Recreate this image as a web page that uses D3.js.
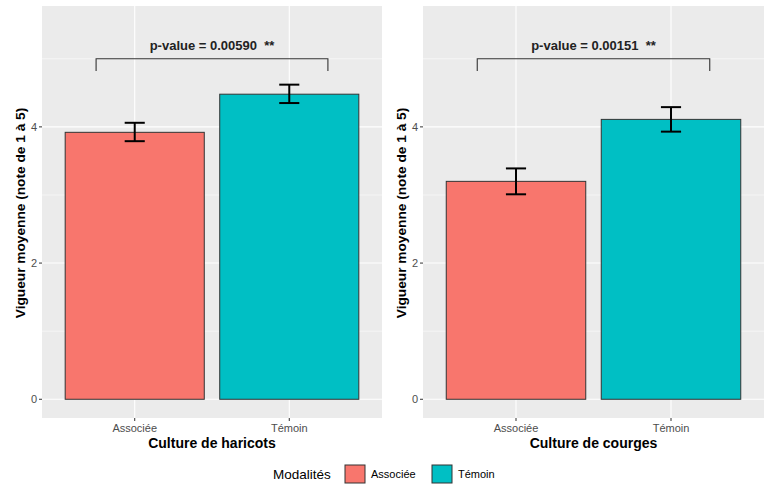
<!DOCTYPE html>
<html>
<head>
<meta charset="utf-8">
<script src="https://cdn.jsdelivr.net/npm/d3@7"></script>
<style>
body { margin: 0; background: #fff; }
svg { display: block; font-family: "Liberation Sans", Arial, sans-serif; }
text { white-space: pre; }
</style>
</head>
<body>
<svg id="chart" width="773" height="489"></svg>
<script>
const categories = ["Associée", "Témoin"];
const colors = ["#F8766D", "#00BFC4"];
const panelTitles = ["Culture de haricots", "Culture de courges"];
const pLabels = ["p-value = 0.00590  **", "p-value = 0.00151  **"];
const meansHaricots = [3.92, 4.48];
const lowHaricots = [3.79, 4.35];
const highHaricots = [4.06, 4.62];
const meansCourges = [3.20, 4.11];
const lowCourges = [3.01, 3.93];
const highCourges = [3.39, 4.29];
const yTicks = [0, 2, 4];
const yMinor = [1, 3, 5];
const yLabel = "Vigueur moyenne (note de 1 à 5)";
const legendTitle = "Modalités";

const panels = [
  { means: meansHaricots, low: lowHaricots, high: highHaricots, title: panelTitles[0], p: pLabels[0], x0: 42, x1: 382, ytx: 20 },
  { means: meansCourges, low: lowCourges, high: highCourges, title: panelTitles[1], p: pLabels[1], x0: 423, x1: 764, ytx: 401 }
];

const svg = d3.select("#chart");
const plotTop = 6, plotBottom = 418;
const y = d3.scaleLinear().domain([-0.275, 5.775]).range([plotBottom, plotTop]);

panels.forEach(p => {
  const g = svg.append("g");
  const x = d3.scaleLinear().domain([0.4, 2.6]).range([p.x0, p.x1]);
  const pos = categories.map((c, i) => i + 1);
  g.append("rect").attr("x", p.x0).attr("y", plotTop).attr("width", p.x1 - p.x0).attr("height", plotBottom - plotTop).attr("fill", "#EBEBEB");
  g.selectAll(".ymin").data(yMinor).enter().append("line")
    .attr("x1", p.x0).attr("x2", p.x1).attr("y1", d => y(d)).attr("y2", d => y(d))
    .attr("stroke", "#fff").attr("stroke-width", 0.55);
  g.selectAll(".ymaj").data(yTicks).enter().append("line")
    .attr("x1", p.x0).attr("x2", p.x1).attr("y1", d => y(d)).attr("y2", d => y(d))
    .attr("stroke", "#fff").attr("stroke-width", 1.1);
  g.selectAll(".xmaj").data(pos).enter().append("line")
    .attr("x1", d => x(d)).attr("x2", d => x(d)).attr("y1", plotTop).attr("y2", plotBottom)
    .attr("stroke", "#fff").attr("stroke-width", 1.1);
  const bw = 0.9;
  g.selectAll(".bar").data(p.means).enter().append("rect")
    .attr("x", (d, i) => x(pos[i] - bw / 2))
    .attr("width", (d, i) => x(pos[i] + bw / 2) - x(pos[i] - bw / 2))
    .attr("y", d => y(d)).attr("height", d => y(0) - y(d))
    .attr("fill", (d, i) => colors[i]).attr("stroke", "#333").attr("stroke-width", 1);
  const ew = 0.065;
  p.means.forEach((m, i) => {
    const eg = g.append("g").attr("stroke", "#000").attr("stroke-width", 2).attr("fill", "none");
    eg.append("line").attr("x1", x(pos[i])).attr("x2", x(pos[i])).attr("y1", y(p.low[i])).attr("y2", y(p.high[i]));
    eg.append("line").attr("x1", x(pos[i] - ew)).attr("x2", x(pos[i] + ew)).attr("y1", y(p.low[i])).attr("y2", y(p.low[i]));
    eg.append("line").attr("x1", x(pos[i] - ew)).attr("x2", x(pos[i] + ew)).attr("y1", y(p.high[i])).attr("y2", y(p.high[i]));
  });
  const bx0 = 0.75, bx1 = 2.25, by = 5.0, btip = 4.82;
  g.append("path")
    .attr("d", d3.line()([[x(bx0), y(btip)], [x(bx0), y(by)], [x(bx1), y(by)], [x(bx1), y(btip)]]))
    .attr("fill", "none").attr("stroke", "#333").attr("stroke-width", 1.1);
  g.append("text").attr("x", x(1.5)).attr("y", y(5.2)).attr("dy", "0.35em")
    .attr("text-anchor", "middle").attr("font-weight", "bold").attr("font-size", 13).attr("fill", "#222")
    .text(p.p);
  g.selectAll(".yt").data(yTicks).enter().append("line")
    .attr("x1", p.x0 - 3).attr("x2", p.x0).attr("y1", d => y(d)).attr("y2", d => y(d))
    .attr("stroke", "#333").attr("stroke-width", 1);
  g.selectAll(".ytl").data(yTicks).enter().append("text")
    .attr("x", p.x0 - 5).attr("y", d => y(d)).attr("dy", "0.35em").attr("text-anchor", "end")
    .attr("font-size", 11).attr("fill", "#4D4D4D").text(d => d);
  g.selectAll(".xt").data(pos).enter().append("line")
    .attr("x1", d => x(d)).attr("x2", d => x(d)).attr("y1", plotBottom).attr("y2", plotBottom + 3)
    .attr("stroke", "#333").attr("stroke-width", 1);
  g.selectAll(".xtl").data(categories).enter().append("text")
    .attr("x", (d, i) => x(pos[i])).attr("y", plotBottom + 10).attr("dy", "0.35em").attr("text-anchor", "middle")
    .attr("font-size", 11).attr("fill", "#4D4D4D").text(d => d);
  g.append("text").attr("x", (p.x0 + p.x1) / 2).attr("y", 443).attr("dy", "0.35em").attr("text-anchor", "middle")
    .attr("font-weight", "bold").attr("font-size", 14).attr("fill", "#000").text(p.title);
  g.append("text").attr("transform", `translate(${p.ytx},${(plotTop + plotBottom) / 2 + 1}) rotate(-90)`)
    .attr("dy", "0.35em").attr("text-anchor", "middle")
    .attr("font-weight", "bold").attr("font-size", 13.7).attr("fill", "#000").text(yLabel);
});

const lg = svg.append("g");
lg.append("text").attr("x", 273).attr("y", 474).attr("dy", "0.35em").attr("font-size", 13.5).attr("fill", "#000").text(legendTitle);
const keyX = [345, 432];
categories.forEach((c, i) => {
  lg.append("rect").attr("x", keyX[i]).attr("y", 465).attr("width", 20).attr("height", 18)
    .attr("fill", colors[i]).attr("stroke", "#333").attr("stroke-width", 1);
  lg.append("text").attr("x", keyX[i] + 26).attr("y", 474).attr("dy", "0.35em").attr("font-size", 11).attr("fill", "#000").text(c);
});
</script>
</body>
</html>
